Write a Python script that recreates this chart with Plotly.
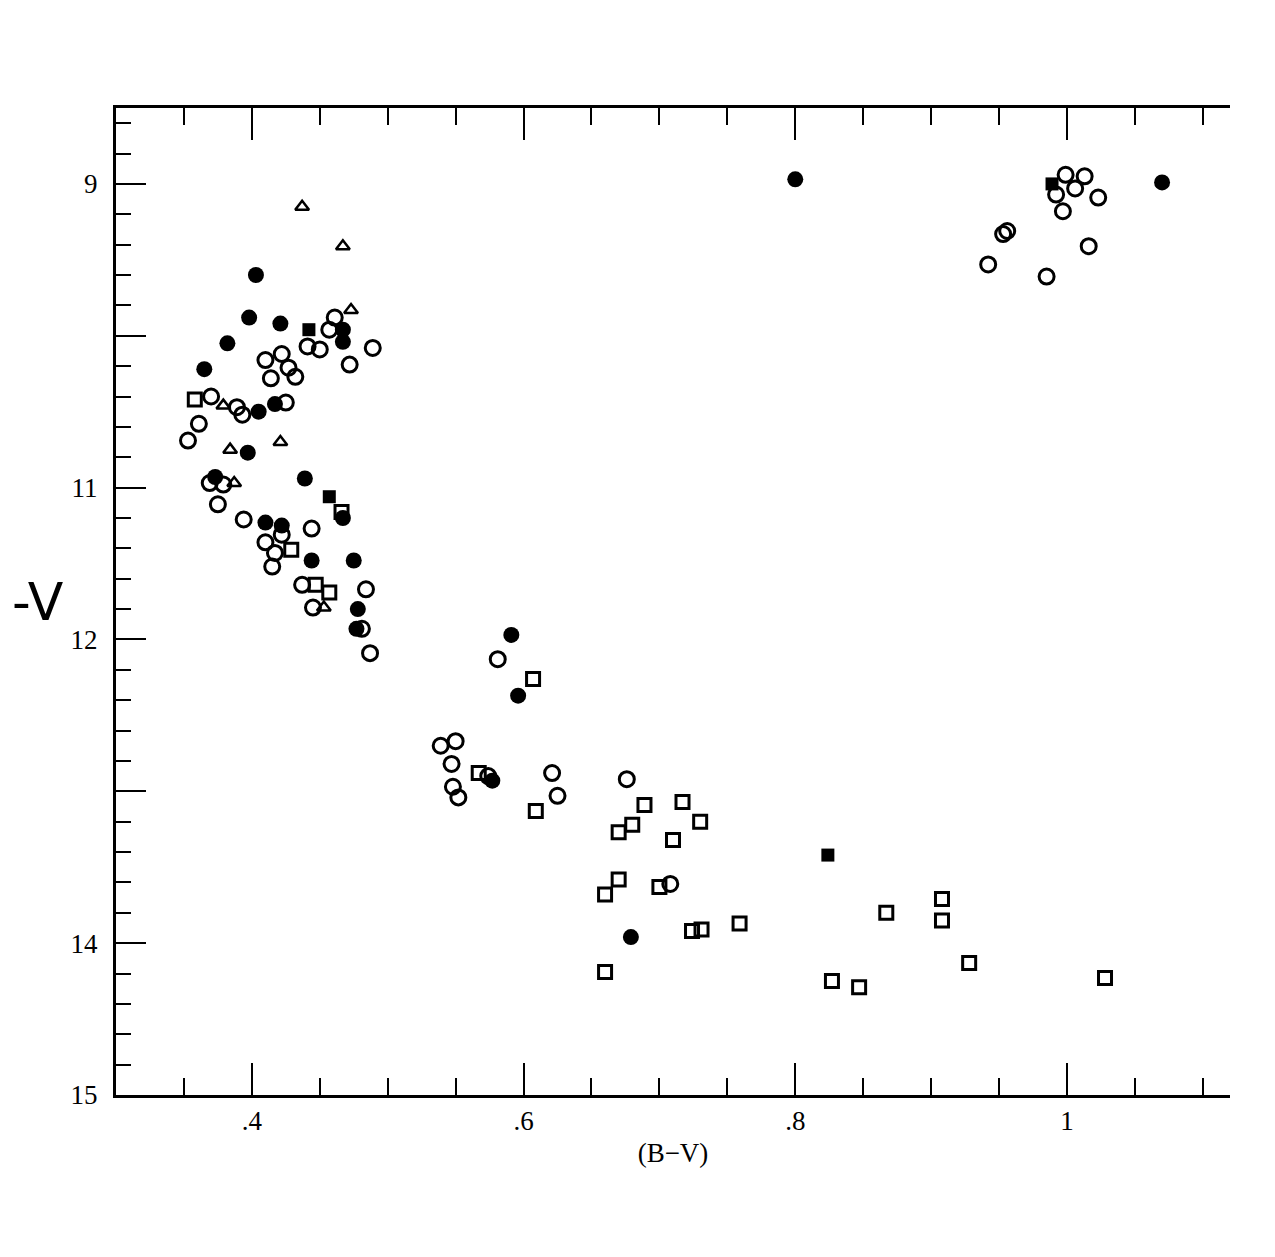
import plotly.graph_objects as go

# (B-V, V) values per symbol type
open_circle_bv = [0.461, 0.457, 0.441, 0.450, 0.489, 0.472, 0.422, 0.410, 0.427, 0.414, 0.432,
                  0.370, 0.389, 0.393, 0.425, 0.361, 0.353, 0.369, 0.379, 0.375, 0.394, 0.444,
                  0.410, 0.422, 0.417, 0.415, 0.437, 0.445, 0.484, 0.481, 0.487, 0.581, 0.539,
                  0.550, 0.547, 0.548, 0.552, 0.574, 0.621, 0.625, 0.676, 0.708,
                  0.999, 1.013, 0.992, 1.006, 1.023, 0.997, 0.953, 0.956, 0.942, 1.016, 0.985]
open_circle_v = [9.88, 9.96, 10.07, 10.09, 10.08, 10.19, 10.12, 10.16, 10.21, 10.28, 10.27,
                 10.40, 10.47, 10.52, 10.44, 10.58, 10.69, 10.97, 10.98, 11.11, 11.21, 11.27,
                 11.36, 11.31, 11.43, 11.52, 11.64, 11.79, 11.67, 11.93, 12.09, 12.13, 12.70,
                 12.67, 12.82, 12.97, 13.04, 12.90, 12.88, 13.03, 12.92, 13.61,
                 8.94, 8.95, 9.07, 9.03, 9.09, 9.18, 9.33, 9.31, 9.53, 9.41, 9.61]

filled_circle_bv = [0.403, 0.398, 0.421, 0.382, 0.467, 0.467, 0.365, 0.405, 0.417, 0.397, 0.439,
                    0.373, 0.410, 0.422, 0.467, 0.444, 0.475, 0.478, 0.477, 0.591, 0.596,
                    0.577, 0.679, 1.070, 0.800]
filled_circle_v = [9.60, 9.88, 9.92, 10.05, 9.96, 10.04, 10.22, 10.50, 10.45, 10.77, 10.94,
                   10.93, 11.23, 11.25, 11.20, 11.48, 11.48, 11.80, 11.93, 11.97, 12.37,
                   12.93, 13.96, 8.99, 8.97]

filled_square_bv = [0.457, 0.824, 0.989, 0.442]
filled_square_v = [11.06, 13.42, 9.00, 9.96]

open_square_bv = [0.358, 0.466, 0.429, 0.447, 0.457, 0.607, 0.567, 0.609, 0.689, 0.717, 0.670,
                  0.680, 0.710, 0.730, 0.660, 0.670, 0.700, 0.724, 0.731, 0.759, 0.660,
                  0.827, 0.847, 0.867, 0.908, 0.908, 0.928, 1.028]
open_square_v = [10.42, 11.16, 11.41, 11.64, 11.69, 12.26, 12.88, 13.13, 13.09, 13.07, 13.27,
                 13.22, 13.32, 13.20, 13.68, 13.58, 13.63, 13.92, 13.91, 13.87, 14.19,
                 14.25, 14.29, 13.80, 13.71, 13.85, 14.13, 14.23]

triangle_bv = [0.437, 0.467, 0.473, 0.379, 0.421, 0.384, 0.387, 0.453]
triangle_v = [9.15, 9.41, 9.83, 10.46, 10.70, 10.75, 10.97, 11.79]

x_tick_vals = [0.4, 0.6, 0.8, 1.0]
x_tick_text = [".4", ".6", ".8", "1"]
x_minor_vals = [0.35, 0.45, 0.5, 0.55, 0.65, 0.7, 0.75, 0.85, 0.9, 0.95, 1.05, 1.1]
y_tick_vals = [9, 10, 11, 12, 13, 14, 15]
y_tick_text = ["9", "", "11", "12", "", "14", "15"]
y_minor_vals = [8.6, 8.8, 9.2, 9.4, 9.6, 9.8, 10.2, 10.4, 10.6, 10.8, 11.2, 11.4, 11.6, 11.8,
                12.2, 12.4, 12.6, 12.8, 13.2, 13.4, 13.6, 13.8, 14.2, 14.4, 14.6, 14.8]

fig = go.Figure()
fig.add_trace(go.Scatter(x=open_circle_bv, y=open_circle_v, mode="markers",
                         marker=dict(symbol="circle-open", size=15, color="black",
                                     line=dict(width=3, color="black"))))
fig.add_trace(go.Scatter(x=filled_circle_bv, y=filled_circle_v, mode="markers",
                         marker=dict(symbol="circle", size=16, color="black")))
fig.add_trace(go.Scatter(x=filled_square_bv, y=filled_square_v, mode="markers",
                         marker=dict(symbol="square", size=13, color="black")))
fig.add_trace(go.Scatter(x=open_square_bv, y=open_square_v, mode="markers",
                         marker=dict(symbol="square-open", size=13, color="black",
                                     line=dict(width=3, color="black"))))
fig.add_trace(go.Scatter(x=triangle_bv, y=triangle_v, mode="markers",
                         marker=dict(symbol="triangle-up-open", size=12, color="black",
                                     line=dict(width=2.5, color="black"))))

axis_font = dict(family="Liberation Serif", size=27, color="black")

fig.update_layout(
    width=1275, height=1257,
    margin=dict(l=108, r=53, t=100, b=170),
    paper_bgcolor="white", plot_bgcolor="white",
    showlegend=False,
    xaxis=dict(range=[0.3, 1.12], tickmode="array", tickvals=x_tick_vals, ticktext=x_tick_text,
               ticks="inside", ticklen=32, tickwidth=2, tickcolor="black",
               minor=dict(tickmode="array", tickvals=x_minor_vals, ticks="inside", ticklen=17,
                          tickwidth=2, tickcolor="black"),
               showline=True, linewidth=3, linecolor="black", mirror="ticks",
               showgrid=False, zeroline=False, tickfont=axis_font,
               title=dict(text="(B−V)", font=dict(family="Liberation Serif", size=27, color="black"),
                          standoff=8)),
    yaxis=dict(range=[15, 8.5], tickmode="array", tickvals=y_tick_vals, ticktext=y_tick_text,
               ticks="inside", ticklen=30, tickwidth=2, tickcolor="black",
               minor=dict(tickmode="array", tickvals=y_minor_vals, ticks="inside", ticklen=15,
                          tickwidth=2, tickcolor="black"),
               showline=True, linewidth=3, linecolor="black", mirror=False,
               ticklabelstandoff=10,
               showgrid=False, zeroline=False, tickfont=axis_font),
    annotations=[dict(text="-V", xref="paper", yref="paper", x=-0.095, y=0.50,
                      xanchor="left", showarrow=False,
                      font=dict(family="DejaVu Sans", size=52, color="black"))]
)

fig.write_html("out.html")
